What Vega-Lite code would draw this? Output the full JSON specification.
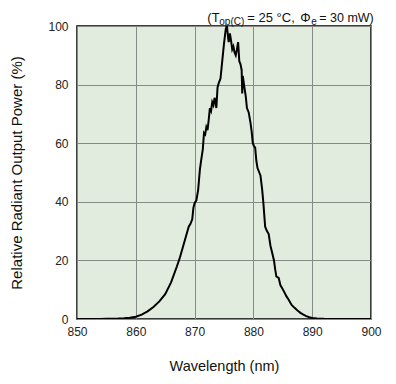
{
  "$schema": "https://vega.github.io/schema/vega-lite/v6.json",
  "autosize": "none",
  "width": 294,
  "height": 293,
  "padding": {"left": 77, "top": 26, "right": 25, "bottom": 65},
  "background": "white",
  "config": {
    "view": {"fill": "#e1ecdf", "stroke": "black", "strokeWidth": 1.5},
    "axis": {
      "domain": false,
      "ticks": false,
      "grid": true,
      "gridColor": "#858a85",
      "gridWidth": 1,
      "labelFlush": false,
      "labelFont": "Liberation Sans",
      "labelFontSize": 12,
      "labelColor": "#222222",
      "titleFont": "Liberation Sans",
      "titleFontWeight": "normal",
      "titleColor": "#111111"
    },
    "text": {"font": "Liberation Sans", "color": "#111111", "baseline": "alphabetic", "align": "left"}
  },
  "layer": [
    {
      "data": {"values": [
        {"wl": 850, "pct": 0}, {"wl": 852, "pct": 0}, {"wl": 854, "pct": 0}, {"wl": 855, "pct": 0.05},
        {"wl": 856, "pct": 0.1}, {"wl": 857, "pct": 0.15}, {"wl": 858, "pct": 0.25}, {"wl": 859, "pct": 0.45},
        {"wl": 860, "pct": 0.8}, {"wl": 861, "pct": 1.5}, {"wl": 862, "pct": 2.6}, {"wl": 863, "pct": 4.1},
        {"wl": 864, "pct": 6}, {"wl": 865, "pct": 8.5}, {"wl": 866, "pct": 12.5}, {"wl": 867, "pct": 18},
        {"wl": 867.5, "pct": 21}, {"wl": 868, "pct": 24.5}, {"wl": 868.5, "pct": 28}, {"wl": 869, "pct": 31.5},
        {"wl": 869.3, "pct": 32.5}, {"wl": 869.6, "pct": 34}, {"wl": 869.8, "pct": 38}, {"wl": 870, "pct": 39.5},
        {"wl": 870.3, "pct": 40.5}, {"wl": 870.6, "pct": 44}, {"wl": 870.9, "pct": 51}, {"wl": 871.1, "pct": 54},
        {"wl": 871.4, "pct": 58}, {"wl": 871.6, "pct": 63.5}, {"wl": 871.8, "pct": 63}, {"wl": 872, "pct": 65.5},
        {"wl": 872.2, "pct": 64.5}, {"wl": 872.4, "pct": 68}, {"wl": 872.6, "pct": 72}, {"wl": 872.8, "pct": 71},
        {"wl": 873, "pct": 74}, {"wl": 873.2, "pct": 73}, {"wl": 873.4, "pct": 75.5}, {"wl": 873.6, "pct": 73.5},
        {"wl": 873.7, "pct": 72}, {"wl": 873.9, "pct": 79}, {"wl": 874.1, "pct": 80.5}, {"wl": 874.4, "pct": 82},
        {"wl": 874.7, "pct": 88}, {"wl": 875, "pct": 94}, {"wl": 875.3, "pct": 99}, {"wl": 875.5, "pct": 100},
        {"wl": 875.7, "pct": 96}, {"wl": 875.8, "pct": 94.5}, {"wl": 876, "pct": 97.5}, {"wl": 876.2, "pct": 95},
        {"wl": 876.4, "pct": 92}, {"wl": 876.6, "pct": 93}, {"wl": 876.8, "pct": 91}, {"wl": 877, "pct": 90},
        {"wl": 877.2, "pct": 92}, {"wl": 877.4, "pct": 94.5}, {"wl": 877.6, "pct": 88}, {"wl": 877.8, "pct": 87},
        {"wl": 878, "pct": 85}, {"wl": 878.1, "pct": 77}, {"wl": 878.2, "pct": 83}, {"wl": 878.4, "pct": 80},
        {"wl": 878.7, "pct": 76}, {"wl": 878.9, "pct": 72}, {"wl": 879.2, "pct": 70.5}, {"wl": 879.5, "pct": 67},
        {"wl": 879.7, "pct": 64}, {"wl": 879.9, "pct": 60}, {"wl": 880.1, "pct": 59}, {"wl": 880.3, "pct": 58.5},
        {"wl": 880.5, "pct": 54}, {"wl": 880.7, "pct": 51.5}, {"wl": 881, "pct": 50}, {"wl": 881.2, "pct": 49},
        {"wl": 881.5, "pct": 44}, {"wl": 881.7, "pct": 39.5}, {"wl": 882, "pct": 31.5}, {"wl": 882.3, "pct": 30},
        {"wl": 882.6, "pct": 29}, {"wl": 882.9, "pct": 25}, {"wl": 883.2, "pct": 22.5}, {"wl": 883.5, "pct": 20},
        {"wl": 883.7, "pct": 17}, {"wl": 883.9, "pct": 14.5}, {"wl": 884.3, "pct": 14}, {"wl": 884.6, "pct": 11.5},
        {"wl": 884.9, "pct": 10.5}, {"wl": 885.3, "pct": 9}, {"wl": 885.6, "pct": 7.8}, {"wl": 886, "pct": 6.6},
        {"wl": 886.5, "pct": 4.8}, {"wl": 887, "pct": 3.8}, {"wl": 887.5, "pct": 2.9}, {"wl": 888, "pct": 2.1},
        {"wl": 888.5, "pct": 1.5}, {"wl": 889, "pct": 1.0}, {"wl": 889.5, "pct": 0.6}, {"wl": 890, "pct": 0.35},
        {"wl": 890.8, "pct": 0.15}, {"wl": 892, "pct": 0.05}, {"wl": 894, "pct": 0}, {"wl": 900, "pct": 0}
      ]},
      "mark": {"type": "line", "color": "black", "strokeWidth": 2, "clip": true},
      "encoding": {
        "x": {
          "field": "wl", "type": "quantitative",
          "scale": {"domain": [850, 900], "nice": false, "zero": false},
          "axis": {"values": [850, 860, 870, 880, 890, 900], "labelPadding": 7, "titlePadding": 22, "titleFontSize": 14.5},
          "title": "Wavelength (nm)"
        },
        "y": {
          "field": "pct", "type": "quantitative",
          "scale": {"domain": [0, 100], "nice": false},
          "axis": {"values": [0, 20, 40, 60, 80, 100], "labelPadding": 9, "titlePadding": 23, "titleFontSize": 15},
          "title": "Relative Radiant Output Power (%)"
        }
      }
    },
    {
      "data": {"values": [{}]},
      "mark": {"type": "text", "text": "(T", "fontSize": 13},
      "encoding": {"x": {"datum": 872.16, "type": "quantitative"}, "y": {"datum": 101.37, "type": "quantitative"}}
    },
    {
      "data": {"values": [{}]},
      "mark": {"type": "text", "text": "op(C)", "fontSize": 10},
      "encoding": {"x": {"datum": 874.2, "type": "quantitative"}, "y": {"datum": 100.34, "type": "quantitative"}}
    },
    {
      "data": {"values": [{}]},
      "mark": {"type": "text", "text": "= 25 °C,", "fontSize": 13},
      "encoding": {"x": {"datum": 878.96, "type": "quantitative"}, "y": {"datum": 101.37, "type": "quantitative"}}
    },
    {
      "data": {"values": [{}]},
      "mark": {"type": "text", "text": "Φ", "fontSize": 13},
      "encoding": {"x": {"datum": 887.98, "type": "quantitative"}, "y": {"datum": 101.37, "type": "quantitative"}}
    },
    {
      "data": {"values": [{}]},
      "mark": {"type": "text", "text": "e", "fontSize": 10},
      "encoding": {"x": {"datum": 889.85, "type": "quantitative"}, "y": {"datum": 100.34, "type": "quantitative"}}
    },
    {
      "data": {"values": [{}]},
      "mark": {"type": "text", "text": "= 30 mW)", "fontSize": 12.5},
      "encoding": {"x": {"datum": 891.2, "type": "quantitative"}, "y": {"datum": 101.37, "type": "quantitative"}}
    }
  ]
}
